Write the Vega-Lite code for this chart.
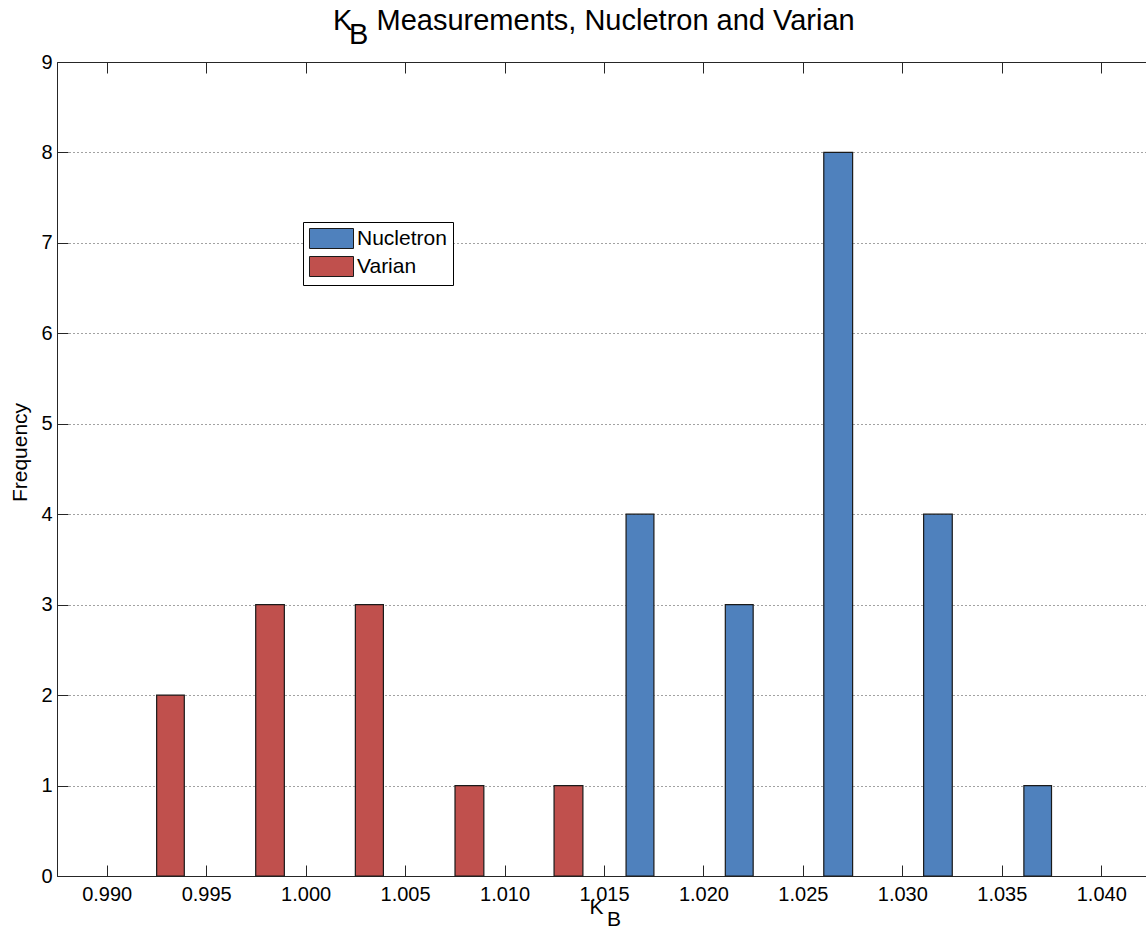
{
  "$schema": "https://vega.github.io/schema/vega-lite/v6.json",
  "autosize": {"type": "none"},
  "width": 1089,
  "height": 814,
  "padding": {"left": 57, "top": 62, "right": 0, "bottom": 63},
  "background": "white",
  "title": {
    "text": ["K\u00a0\u00a0\u00a0Measurements, Nucletron and Varian", "\u200b\u00a0\u00a0B"],
    "anchor": "start",
    "frame": "group",
    "align": "left",
    "baseline": "alphabetic",
    "dx": 276,
    "dy": 55,
    "offset": 34,
    "fontSize": 29,
    "fontWeight": "normal",
    "lineHeight": 14,
    "color": "#000000",
    "font": "Liberation Sans"
  },
  "data": {
    "values": [
      {"maker": "Varian", "lo": 0.99251, "hi": 0.99390, "count": 2},
      {"maker": "Varian", "lo": 0.99749, "hi": 0.99893, "count": 3},
      {"maker": "Varian", "lo": 1.00250, "hi": 1.00391, "count": 3},
      {"maker": "Varian", "lo": 1.00751, "hi": 1.00896, "count": 1},
      {"maker": "Varian", "lo": 1.01249, "hi": 1.01394, "count": 1},
      {"maker": "Nucletron", "lo": 1.01611, "hi": 1.01751, "count": 4},
      {"maker": "Nucletron", "lo": 1.02110, "hi": 1.02250, "count": 3},
      {"maker": "Nucletron", "lo": 1.02605, "hi": 1.02750, "count": 8},
      {"maker": "Nucletron", "lo": 1.03107, "hi": 1.03251, "count": 4},
      {"maker": "Nucletron", "lo": 1.03611, "hi": 1.03750, "count": 1}
    ]
  },
  "layer": [
    {
      "mark": {"type": "bar", "stroke": "#1a1a1a", "strokeWidth": 1.2, "opacity": 1},
      "encoding": {
        "x": {
          "field": "lo",
          "type": "quantitative",
          "scale": {"domain": [0.9875, 1.04225], "nice": false, "zero": false},
          "axis": {
            "orient": "bottom",
            "values": [0.990, 0.995, 1.000, 1.005, 1.010, 1.015, 1.020, 1.025, 1.030, 1.035, 1.040],
            "format": ".3f",
            "grid": false,
            "tickSize": -11,
            "labelPadding": 19,
            "labelFontSize": 20,
            "title": ["K", "\u200b\u00a0\u00a0\u00a0B"],
            "titleAlign": "left",
            "titleAnchor": "start",
            "titleX": 532,
            "titleY": 37,
            "titleBaseline": "alphabetic",
            "titleFontSize": 21,
            "titleLineHeight": 12,
            "titleFontWeight": "normal"
          }
        },
        "x2": {"field": "hi"},
        "y": {
          "field": "count",
          "type": "quantitative",
          "scale": {"domain": [0, 9], "nice": false},
          "axis": {
            "values": [0, 1, 2, 3, 4, 5, 6, 7, 8, 9],
            "grid": true,
            "gridDash": [1, 3],
            "gridColor": "#444444",
            "gridWidth": 1,
            "tickSize": -11,
            "labelPadding": 16,
            "labelFontSize": 20,
            "title": "Frequency",
            "titleX": -31,
            "titleY": 390,
            "titleAlign": "center",
            "titleBaseline": "alphabetic",
            "titleFontSize": 21,
            "titleFontWeight": "normal"
          }
        },
        "y2": {"datum": 0},
        "color": {
          "field": "maker",
          "type": "nominal",
          "scale": {"domain": ["Nucletron", "Varian"], "range": ["#4F81BD", "#C0504D"]},
          "legend": {
            "orient": "none",
            "legendX": 246,
            "legendY": 160,
            "title": null,
            "strokeColor": "#000000",
            "fillColor": "#ffffff",
            "padding": 6,
            "symbolType": "M-1,-1H3.4V1H-1Z",
            "symbolSize": 400,
            "symbolStrokeColor": "#1a1a1a",
            "symbolStrokeWidth": 1,
            "symbolOpacity": 1,
            "labelOffset": 27,
            "labelFontSize": 21,
            "rowPadding": 3
          }
        }
      }
    },
    {
      "mark": {"type": "rule", "opacity": 0},
      "encoding": {
        "x": {
          "field": "lo",
          "type": "quantitative",
          "scale": {"domain": [0.9875, 1.04225], "nice": false, "zero": false},
          "axis": {
            "orient": "top",
            "values": [0.990, 0.995, 1.000, 1.005, 1.010, 1.015, 1.020, 1.025, 1.030, 1.035, 1.040],
            "labels": false,
            "grid": false,
            "tickSize": -11,
            "title": null
          }
        }
      }
    }
  ],
  "resolve": {"axis": {"x": "independent"}},
  "config": {
    "font": "Liberation Sans",
    "view": {"stroke": null},
    "axis": {
      "domainColor": "#262626",
      "domainWidth": 1,
      "tickColor": "#262626",
      "tickWidth": 1,
      "labelColor": "#000000",
      "titleColor": "#000000",
      "labelFont": "Liberation Sans",
      "titleFont": "Liberation Sans"
    },
    "legend": {"labelColor": "#000000", "labelFont": "Liberation Sans"}
  }
}
